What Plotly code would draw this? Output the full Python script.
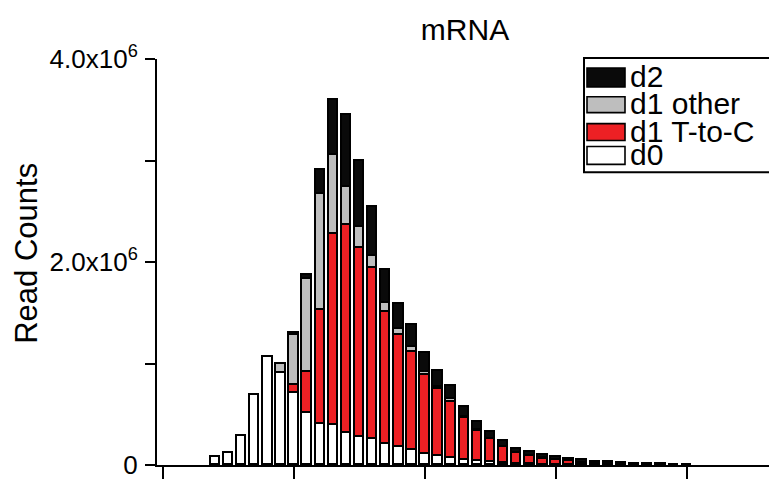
import plotly.graph_objects as go

# Number of positions along the read (x categories)
positions = list(range(4, 41))

# Stacked read counts per position
d0 = [80000, 115000, 290000, 690000, 1060000, 910000, 710000, 515000, 400000,
      394000, 320000, 280000, 260000, 210000, 180000, 145000, 113000, 90000,
      67000, 47000, 37000, 31000, 18000, 10000, 6000, 4000, 3000, 2000, 1000,
      None, None, None, None, None, None, None, None]
d1_tc = [None, None, None, None, None, None, 75000, 400000, 1130000, 1886000,
         2040000, 1860000, 1680000, 1300000, 1100000, 965000, 770000, 655000,
         553000, 413000, 300000, 222000, 160000, 106000, 84000, 60000, 42000,
         33000, 23000, 15000, 10000, 6000, 4000, 2000, 1000, None, None]
d1_other = [None, None, None, None, None, 90000, 500000, 920000, 1140000,
            770000, 380000, 200000, 120000, 85000, 60000, 50000, 36000, 28000,
            26000, 10000, 8000, 5000, 4000, 3000, 2000, 1000, 1000, 1000,
            None, None, None, None, None, None, None, None, None]
d2 = [None, None, None, None, None, None, 15000, 40000, 240000, 550000, 710000,
      660000, 480000, 325000, 250000, 220000, 180000, 153000, 130000, 97000,
      81000, 67000, 55000, 40000, 38000, 35000, 28000, 27000, 22000, 18000,
      15000, 14000, 10000, 8000, 5000, 3000, 2000]

series = [
    ("d0", d0, "#FFFFFF"),
    ("d1 T-to-C", d1_tc, "#ED2024"),
    ("d1 other", d1_other, "#BEBEBE"),
    ("d2", d2, "#0A0A0A"),
]

y_ticks = [0, 1000000, 2000000, 3000000, 4000000]
y_ticktext = ["0", "", "2.0x10<sup>6</sup>", "", "4.0x10<sup>6</sup>"]
x_ticks = [0, 10, 20, 30, 40]

FONT = "Liberation Sans, Arial, Helvetica, sans-serif"
W, H = 769, 480
L, R, T, B = 157, 0, 59, 12.5

fig = go.Figure()
for name, vals, color in series:
    fig.add_trace(go.Bar(
        x=positions, y=vals, name=name, width=0.72,
        marker=dict(color=color, line=dict(color="#000000", width=1.6)),
        showlegend=False,
    ))


def px_to_paper(xp, yp):
    pw = W - L - R
    ph = H - T - B
    return (xp - L) / pw, (H - B - yp) / ph


# Legend drawn as boxed swatches with labels
shapes = []
annotations = []
bx0, by0 = px_to_paper(584, 58)
bx1, by1 = px_to_paper(790, 173)
shapes.append(dict(type="rect", xref="paper", yref="paper",
                   x0=bx0, x1=bx1, y0=by1, y1=by0,
                   line=dict(color="#000000", width=2), fillcolor="#FFFFFF",
                   layer="above"))
legend_rows = [("d2", "#0A0A0A", 68, 87),
               ("d1 other", "#BEBEBE", 97, 113),
               ("d1 T-to-C", "#ED2024", 124, 141),
               ("d0", "#FFFFFF", 147, 165)]
for label, color, top, bottom in legend_rows:
    sx0, sy0 = px_to_paper(587, top)
    sx1, sy1 = px_to_paper(625, bottom)
    shapes.append(dict(type="rect", xref="paper", yref="paper",
                       x0=sx0, x1=sx1, y0=sy1, y1=sy0,
                       line=dict(color="#000000", width=1.6), fillcolor=color,
                       layer="above"))
    tx, ty = px_to_paper(628, (top + bottom) / 2 - 1)
    annotations.append(dict(text=label, xref="paper", yref="paper",
                            x=tx, y=ty, xanchor="left", yanchor="middle",
                            showarrow=False,
                            font=dict(family=FONT, size=30, color="#000000")))

# Y axis title
ax, ay = px_to_paper(27, 255)
annotations.append(dict(text="Read Counts", xref="paper", yref="paper",
                        x=ax, y=ay, xanchor="center", yanchor="middle",
                        textangle=-90, showarrow=False,
                        font=dict(family=FONT, size=31, color="#000000")))

fig.update_layout(
    width=W, height=H,
    margin=dict(l=L, r=R, t=T, b=B, pad=0),
    paper_bgcolor="#FFFFFF", plot_bgcolor="#FFFFFF",
    barmode="stack", bargap=0,
    title=dict(text="mRNA", x=465 / W, y=1 - 29 / H,
               xanchor="center", yanchor="middle",
               font=dict(family=FONT, size=30, color="#000000")),
    shapes=shapes, annotations=annotations,
    xaxis=dict(range=[-0.46, 46.26], showline=True, linecolor="#000000",
               linewidth=2, ticks="outside", ticklen=12, tickwidth=2,
               tickcolor="#000000", tickvals=x_ticks, showticklabels=False,
               showgrid=False, zeroline=False),
    yaxis=dict(range=[0, 4000000], showline=True, linecolor="#000000",
               linewidth=2, ticks="outside", ticklen=10, tickwidth=2,
               tickcolor="#000000", tickvals=y_ticks, ticktext=y_ticktext,
               showgrid=False, zeroline=False, ticklabelstandoff=2,
               ticklabeloverflow="allow",
               tickfont=dict(family=FONT, size=26, color="#000000")),
)

fig.write_html("out.html")
